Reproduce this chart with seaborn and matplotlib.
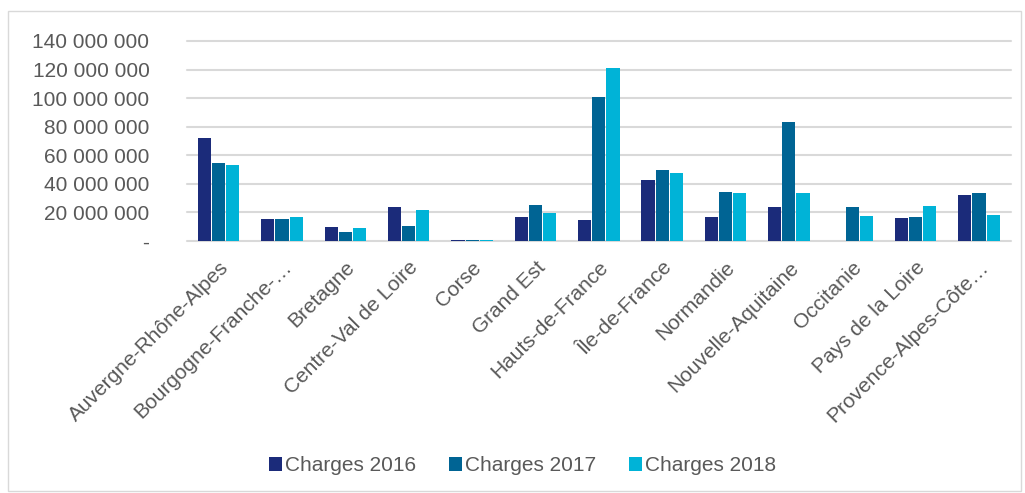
import matplotlib
matplotlib.use('Agg')
import matplotlib.pyplot as plt
from matplotlib.patches import Rectangle
from matplotlib.ticker import FuncFormatter
import seaborn as sns
import pandas as pd
import numpy as np

# ─── Data ─────────────────────────────────────────────────────────────────────
regions = [
    "Auvergne-Rhône-Alpes", "Bourgogne-Franche-…", "Bretagne",
    "Centre-Val de Loire", "Corse", "Grand Est", "Hauts-de-France",
    "Île-de-France", "Normandie", "Nouvelle-Aquitaine", "Occitanie",
    "Pays de la Loire", "Provence-Alpes-Côte…",
]
charges_2016 = [72.1, 15.3, 9.8, 24.0, 1.1, 16.7, 14.9, 42.8, 17.0, 23.7, 0.0, 16.0, 32.3]
charges_2017 = [54.9, 15.6, 6.5, 10.5, 1.1, 24.9, 100.7, 49.8, 34.4, 83.3, 23.7, 17.0, 33.5]
charges_2018 = [53.3, 17.0, 9.3, 21.9, 0.9, 19.5, 120.9, 47.9, 33.5, 33.5, 17.7, 24.7, 18.1]
series = ["Charges 2016", "Charges 2017", "Charges 2018"]
colors = ["#1b2b7a", "#006494", "#00b3d7"]

df = pd.DataFrame({
    "region": regions * 3,
    "serie": np.repeat(series, len(regions)),
    "value": np.array(charges_2016 + charges_2017 + charges_2018) * 1e6,
})

# ─── Plot ─────────────────────────────────────────────────────────────────────
sns.set_style("white")
plt.rcParams['font.family'] = ['Liberation Sans', 'DejaVu Sans']
text_color = "#595959"

fig = plt.figure(figsize=(10.25, 4.93), dpi=100)
ax = fig.add_axes([0.1824, 0.511, 0.8036, 0.406])

sns.barplot(
    data=df, x="region", y="value", hue="serie",
    palette=colors, width=0.67, gap=0.07, ax=ax,
    linewidth=0, saturation=1, errorbar=None,
)

ax.set_ylim(0, 140e6)
ax.set_yticks(np.arange(0, 140e6 + 1, 20e6))
ax.yaxis.set_major_formatter(FuncFormatter(
    lambda v, p: "-" if v == 0 else f"{int(v):,}".replace(",", " ")))
ax.grid(axis="y", color="#d9d9d9", linewidth=1.5, clip_on=False)
ax.set_axisbelow(True)
for s in ["top", "right", "left", "bottom"]:
    ax.spines[s].set_visible(False)
ax.set_xlabel("")
ax.set_ylabel("")
ax.tick_params(axis="both", length=0, labelsize=15, colors=text_color)
ax.tick_params(axis="y", pad=27)
ax.tick_params(axis="x", pad=12)
plt.setp(ax.get_xticklabels(), rotation=45, ha="right", rotation_mode="anchor")

handles, labels = ax.get_legend_handles_labels()
ax.legend_.remove()
fig.legend(handles, labels, loc="center", bbox_to_anchor=(0.51, 0.055), ncol=3,
           frameon=False, fontsize=15, labelcolor=text_color,
           handlelength=0.6, handleheight=0.6, handletextpad=0.15,
           columnspacing=1.6)

fig.patches.append(Rectangle((0.008, 0.005), 0.988, 0.972, transform=fig.transFigure,
                             fill=False, edgecolor="#d9d9d9", linewidth=1))

fig.savefig("out.png", dpi=100)
